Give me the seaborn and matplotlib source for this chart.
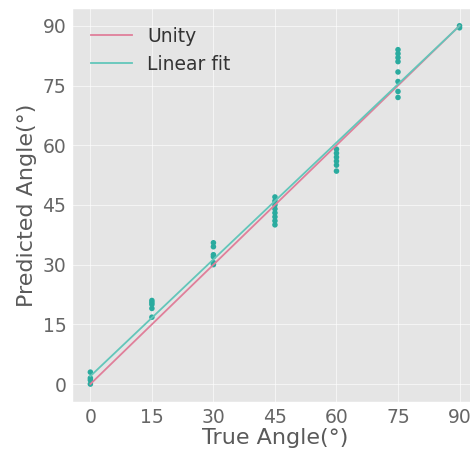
import numpy as np
import pandas as pd
import matplotlib
matplotlib.use("Agg")
import matplotlib.pyplot as plt
import seaborn as sns

angle_0 = [0, 1, 1.5, 3]
angle_15 = [16.8, 19, 20, 20.5, 21]
angle_30 = [30, 30.5, 32, 32.5, 34.5, 35.5]
angle_45 = [40, 41, 42, 43, 44, 45, 46, 47]
angle_60 = [53.5, 55, 56, 57, 58, 59]
angle_75 = [72, 73.5, 76, 78.4, 81, 82, 83, 84]
angle_90 = [89.5, 90]

true_angles = [0, 15, 30, 45, 60, 75, 90]
groups = [angle_0, angle_15, angle_30, angle_45, angle_60, angle_75, angle_90]

rows = []
for t, g in zip(true_angles, groups):
    for p in g:
        rows.append((t, p))
df = pd.DataFrame(rows, columns=["true", "pred"])

# linear fit through the points
slope, intercept = np.polyfit(df["true"], df["pred"], 1)
line_x = np.array([0, 90])
fit_df = pd.DataFrame({"x": line_x, "y": slope * line_x + intercept})
unity_df = pd.DataFrame({"x": line_x, "y": line_x})

plt.style.use("ggplot")
fig = plt.figure(figsize=(4.7, 4.53), dpi=100)
ax = fig.add_axes([0.153, 0.1126, 0.864, 0.870])

sns.scatterplot(data=df, x="true", y="pred", color="#2aab9f", s=16,
                edgecolor="none", ax=ax, zorder=2)
sns.lineplot(data=unity_df, x="x", y="y", color="#e07f9a", lw=1.3,
             label="Unity", ax=ax, zorder=3)
sns.lineplot(data=fit_df, x="x", y="y", color="#62c6ba", lw=1.3,
             label="Linear fit", ax=ax, zorder=4)

ax.set_xlim(-4.5, 94.5)
ax.set_ylim(-4.5, 94.5)
ax.set_xticks(true_angles)
ax.set_yticks(true_angles)
ax.grid(True, color="white", lw=0.7, alpha=0.6)
ax.tick_params(labelsize=13.5, colors="#666666", length=0, pad=4)
for lab in ax.get_xticklabels() + ax.get_yticklabels():
    lab.set_color("#666666")
ax.set_xlabel("True Angle(°)", fontsize=16, color="#5a5a5a", labelpad=1)
ax.set_ylabel("Predicted Angle(°)", fontsize=16, color="#5a5a5a", labelpad=4)

leg = ax.legend(loc="upper left", fontsize=13.5, frameon=False,
                handlelength=2.2, borderaxespad=0.5, borderpad=0.5)
for txt in leg.get_texts():
    txt.set_color("#333333")

fig.savefig("out.png", dpi=100)
